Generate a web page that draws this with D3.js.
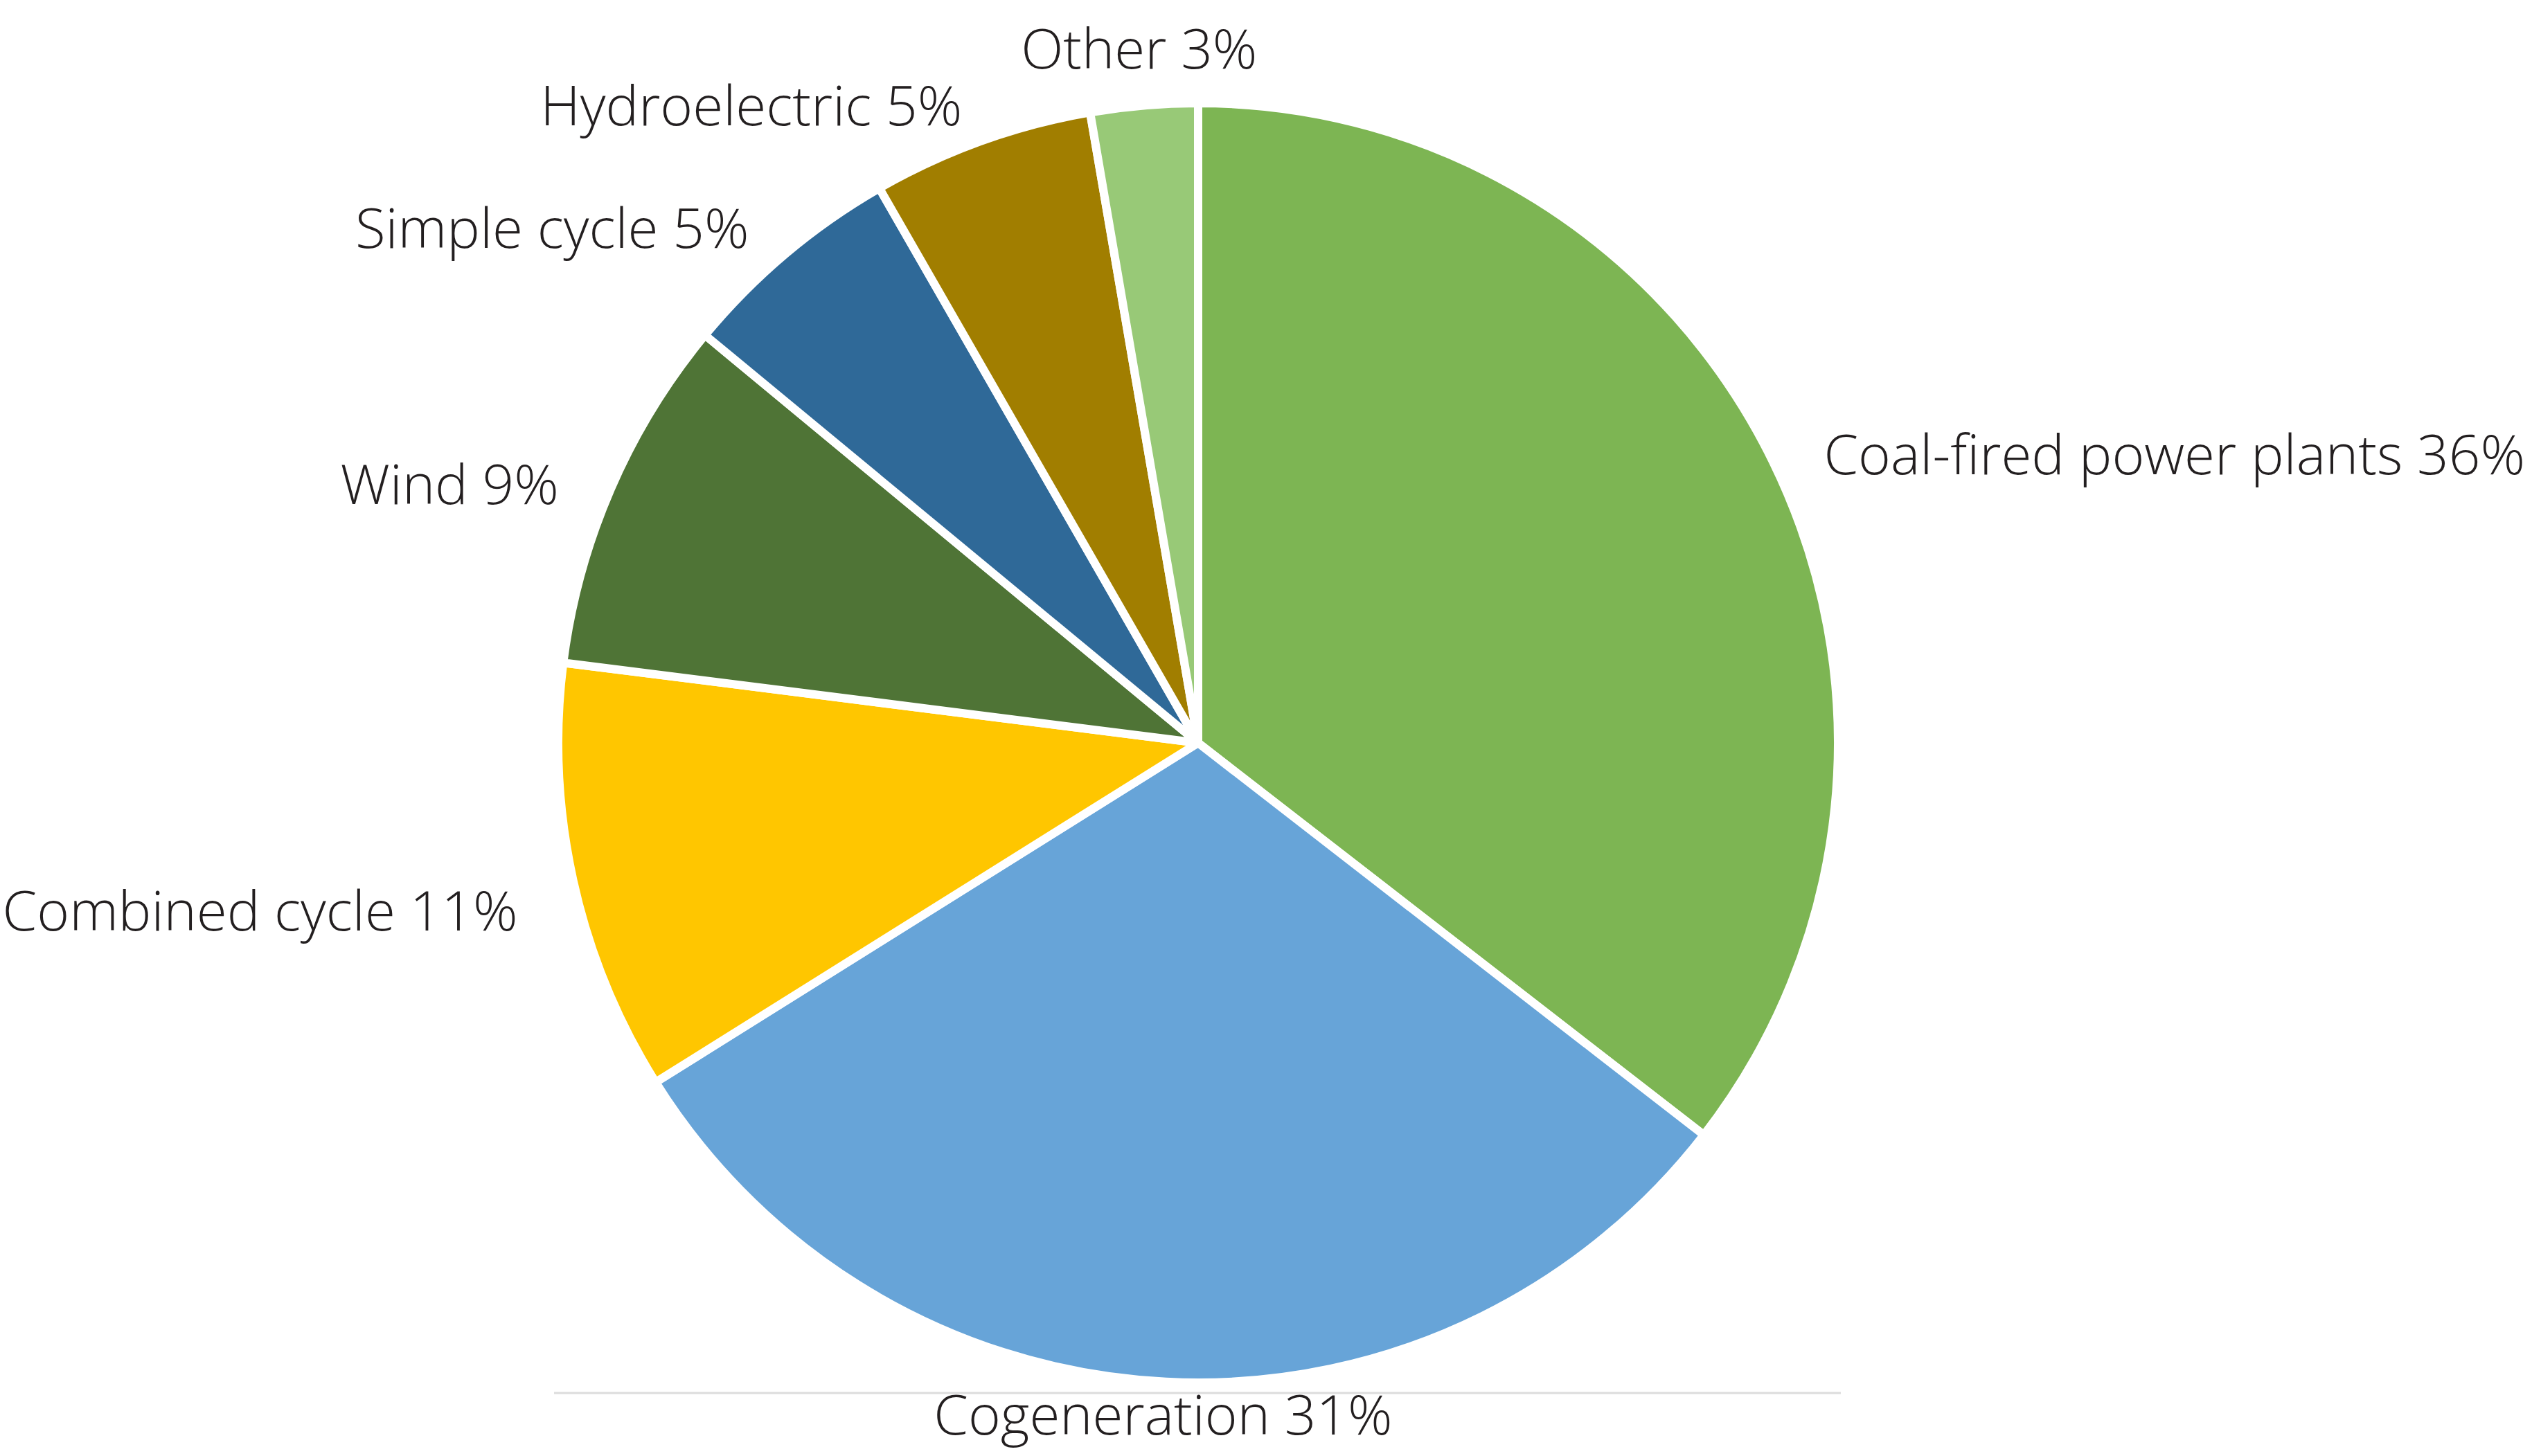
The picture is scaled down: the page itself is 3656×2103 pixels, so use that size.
<!DOCTYPE html>
<html>
<head>
<meta charset="utf-8">
<script src="https://cdn.jsdelivr.net/npm/d3@7"></script>
<style>
  html, body { margin: 0; padding: 0; background: #ffffff; }
  svg { display: block; }
  text { font-family: "Open Sans", "Noto Sans", sans-serif; font-weight: 300; fill: #231f20; }
</style>
</head>
<body>
<svg id="chart"></svg>
<script>
// ---- Data ----
const categories = ["Coal-fired power plants", "Cogeneration", "Combined cycle", "Wind", "Simple cycle", "Hydroelectric", "Other"];
const values = [35.5, 30.6, 10.9, 9.0, 5.7, 5.6, 2.7];
const percentLabels = ["36%", "31%", "11%", "9%", "5%", "5%", "3%"];
const colors = ["#7db553", "#67a4d8", "#ffc600", "#4f7436", "#2f6998", "#a17e00", "#98c977"];

// ---- Layout ----
const W = 3656, H = 2103;
const cx = 1730, cy = 1073;
const outerR = 924;
const labelGap = 88;
const fontSize = 80;

const svg = d3.select("#chart").attr("width", W).attr("height", H);

const data = categories.map((c, i) => ({ name: c, value: values[i], pct: percentLabels[i], color: colors[i] }));

const pie = d3.pie().value(d => d.value).sort(null);
const arcs = pie(data);
const arcGen = d3.arc().innerRadius(0).outerRadius(outerR);

const g = svg.append("g").attr("transform", `translate(${cx},${cy})`);

g.selectAll("path.slice")
  .data(arcs)
  .join("path")
  .attr("class", "slice")
  .attr("d", arcGen)
  .attr("fill", d => d.data.color)
  .attr("stroke", "#ffffff")
  .attr("stroke-width", 12)
  .attr("stroke-linejoin", "round");

// thin rule under the pie
const ruleY = cy + outerR + 15;
svg.append("line")
  .attr("x1", cx - outerR - 6).attr("x2", cx + outerR + 4)
  .attr("y1", ruleY).attr("y2", ruleY)
  .attr("stroke", "#dcdcdc").attr("stroke-width", 3);

// labels
const labelR = outerR - 6 + labelGap;
g.selectAll("text.label")
  .data(arcs)
  .join("text")
  .attr("class", "label")
  .attr("font-size", fontSize)
  .each(function(d) {
    const mid = (d.startAngle + d.endAngle) / 2;
    const s = Math.sin(mid), c = Math.cos(mid);
    const px = s * labelR, py = -c * labelR;
    let anchor, dy;
    if (s > 0.3) { anchor = "start"; dy = 0.68 * fontSize; }
    else if (s < -0.3) { anchor = "end"; dy = 0.68 * fontSize; }
    else if (c > 0) { anchor = "middle"; dy = 0.36 * fontSize; }
    else { anchor = "middle"; dy = -0.07 * fontSize; }
    d3.select(this)
      .attr("x", px).attr("y", py + dy)
      .attr("text-anchor", anchor)
      .text(`${d.data.name} ${d.data.pct}`);
  });
</script>
</body>
</html>
